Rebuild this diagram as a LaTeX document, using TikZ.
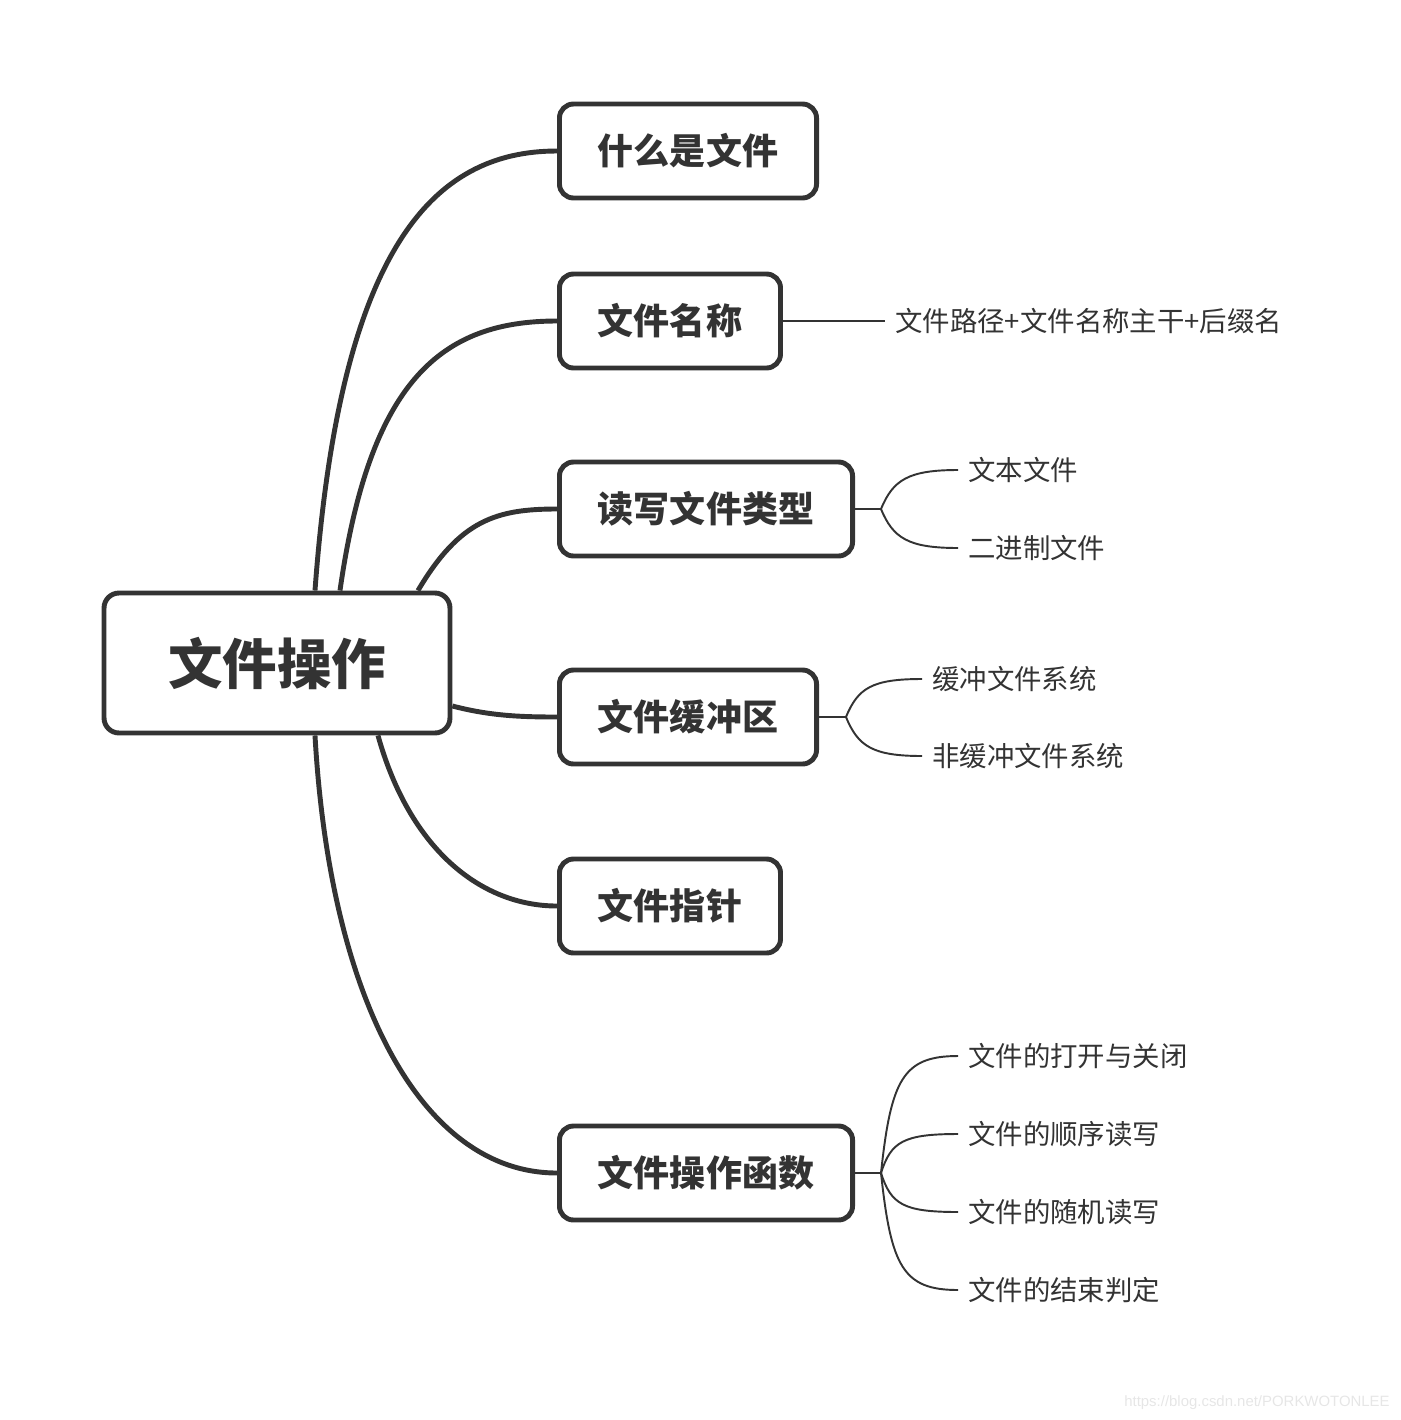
\documentclass[tikz,border=0pt]{standalone}
\usepackage{fontspec}
\setmainfont{Noto Sans CJK SC}
\newfontfamily\markfont{Liberation Sans}
\definecolor{mapline}{HTML}{333333}
\definecolor{markgray}{HTML}{E6E6E6}
\tikzset{
  rootbox/.style={draw=mapline, line width=4pt*0.5*1.4, rounded corners=0.3cm, fill=white,
    minimum width=6.92cm, minimum height=2.8cm, text=mapline,
    font=\fontsize{31pt}{31pt}\selectfont\bfseries},
  topicbox/.style={draw=mapline, line width=2.8pt, rounded corners=0.28cm, fill=white,
    anchor=west, inner xsep=0.77cm, inner ysep=0pt, minimum height=1.88cm, text=mapline,
    font=\fontsize{20.5pt}{20.5pt}\selectfont\bfseries},
  leaf/.style={anchor=west, inner xsep=0.2cm, inner ysep=0pt, text=mapline,
    font=\fontsize{15.6pt}{15.6pt}\selectfont},
  bigline/.style={draw=mapline, line width=2.8pt},
  thinline/.style={draw=mapline, line width=1.1pt}
}
\begin{document}
\begin{tikzpicture}[x=0.02cm, y=-0.02cm]
\useasboundingbox (0,0) rectangle (1400,1420);

\node[rootbox] (root) at (277,663) {文件操作};

\node[topicbox] (what) at (557,151) {什么是文件};
\node[topicbox] (name) at (557,321) {文件名称};
\node[topicbox] (kind) at (557,509) {读写文件类型};
\node[topicbox] (buff) at (557,717) {文件缓冲区};
\node[topicbox] (ptr)  at (557,906) {文件指针};
\node[topicbox] (func) at (557,1173) {文件操作函数};

% main branches
\draw[bigline] ([xshift=0.76cm]root.north) .. controls +(25,-341) and +(-125,0) .. (what.west);
\draw[bigline] ([xshift=1.26cm]root.north) .. controls +(30,-211) and +(-115,0) .. (name.west);
\draw[bigline] ([xshift=2.82cm]root.north) .. controls +(42,-71) and +(-60,0) .. (kind.west);
\draw[bigline] ([yshift=-0.86cm]root.east) .. controls +(38,10) and +(-35,0) .. (buff.west);
\draw[bigline] ([xshift=2.02cm]root.south) .. controls +(32,115) and +(-75,0) .. (ptr.west);
\draw[bigline] ([xshift=0.76cm]root.south) .. controls +(15,265) and +(-135,0) .. (func.west);

% leaves
\node[leaf] (path) at (885,321) {文件路径+文件名称主干+后缀名};
\draw[thinline] (name.east) -- (path.west);

\coordinate (kindj) at ([xshift=0.52cm]kind.east);
\node[leaf] (text) at (958,470) {文本文件};
\node[leaf] (bin)  at (958,548) {二进制文件};
\draw[thinline] (kind.east) -- (kindj);
\draw[thinline] (kindj) .. controls +(12,-29) and +(-50,0) .. (text.west);
\draw[thinline] (kindj) .. controls +(12,29) and +(-50,0) .. (bin.west);

\coordinate (buffj) at ([xshift=0.54cm]buff.east);
\node[leaf] (bsys)  at (922,679) {缓冲文件系统};
\node[leaf] (nbsys) at (922,756) {非缓冲文件系统};
\draw[thinline] (buff.east) -- (buffj);
\draw[thinline] (buffj) .. controls +(12,-29) and +(-50,0) .. (bsys.west);
\draw[thinline] (buffj) .. controls +(12,29) and +(-50,0) .. (nbsys.west);

\coordinate (funcj) at ([xshift=0.52cm]func.east);
\draw[thinline] (func.east) -- (funcj);
\foreach \y/\dy/\txt [count=\i] in {1056/-117/文件的打开与关闭, 1134/-39/文件的顺序读写,
    1212/39/文件的随机读写, 1290/117/文件的结束判定} {
  \node[leaf] (fn\i) at (958,\y) {\txt};
  \draw[thinline] (funcj) .. controls +(10,0.8*\dy) and +(-55,0) .. (fn\i.west);
}

\node[anchor=east, inner sep=0pt, text=markgray, font=\markfont\fontsize{8.5pt}{8.5pt}\selectfont]
  (mark) at (1390,1403) {https://blog.csdn.net/PORKWOTONLEE};
\end{tikzpicture}
\end{document}
